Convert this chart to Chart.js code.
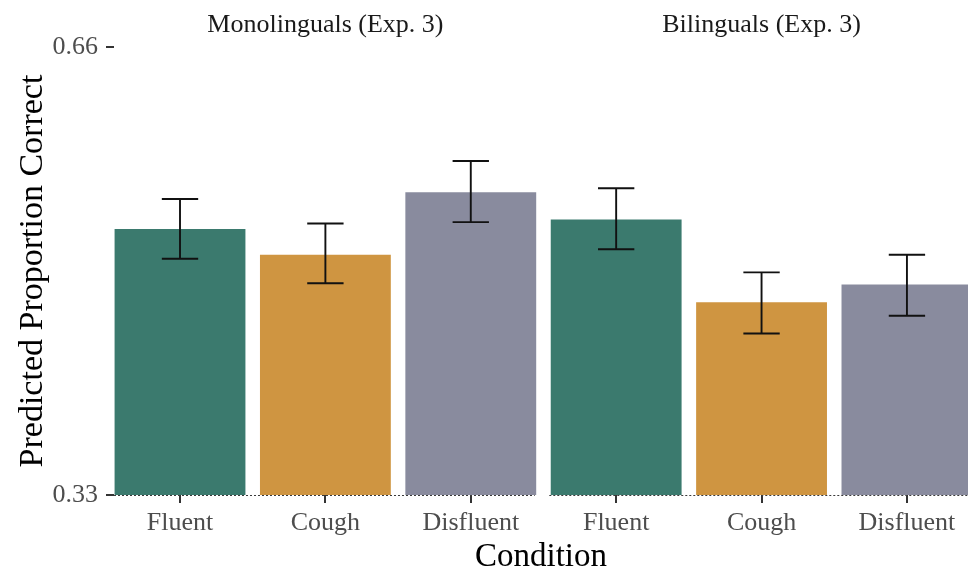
<!DOCTYPE html>
<html>
<head>
<meta charset="utf-8">
<script src="https://cdn.jsdelivr.net/npm/chart.js@4.4.1/dist/chart.umd.min.js"></script>
<style>
  html, body { margin: 0; padding: 0; background: #ffffff; overflow: hidden; }
  #wrap { position: relative; width: 968px; height: 573px; }
</style>
</head>
<body>
<div id="wrap"><canvas id="chart"></canvas></div>
<script>
// Panels (facets) and the conditions shown inside each one
const groups = ['Monolinguals (Exp. 3)', 'Bilinguals (Exp. 3)'];
const conditions = ['Fluent', 'Cough', 'Disfluent'];

// Predicted proportion correct, one value per condition, per panel
const monoMean = [0.526, 0.507, 0.553];
const monoLow  = [0.504, 0.486, 0.531];
const monoHigh = [0.548, 0.530, 0.576];

const biMean = [0.533, 0.472, 0.485];
const biLow  = [0.511, 0.449, 0.462];
const biHigh = [0.556, 0.494, 0.507];

// y-axis tick labels
const yTicks = [0.33, 0.66];

const conditionColors = ['#3b7a6e', '#cf9541', '#898b9e'];
const serif = "'Liberation Serif', 'Times New Roman', serif";

// Flatten the two panels onto one index axis: panel p, condition k -> p*3 + k
const means = [monoMean, biMean];
const lows = [monoLow, biLow];
const highs = [monoHigh, biHigh];
const points = [];
const colors = [];
const errs = [];
groups.forEach((g, p) => {
  conditions.forEach((c, k) => {
    const x = p * conditions.length + k;
    points.push({ x: x, y: means[p][k] });
    colors.push(conditionColors[k]);
    errs.push({ x: x, lo: lows[p][k], hi: highs[p][k] });
  });
});
const tickLabels = groups.flatMap(() => conditions);

// Error bars, panel strip titles and the dotted baseline
const decorations = {
  id: 'decorations',
  afterDatasetsDraw(chart) {
    const { ctx, scales: { x, y }, chartArea } = chart;
    ctx.save();

    // dotted reference line at the bottom of each panel
    ctx.strokeStyle = '#3a3a3a';
    ctx.lineWidth = 1;
    ctx.setLineDash([2, 2]);
    const yb = Math.round(y.getPixelForValue(yTicks[0])) + 0.5;
    groups.forEach((g, p) => {
      const first = p * conditions.length;
      const last = first + conditions.length - 1;
      const x0 = Math.max(chartArea.left, x.getPixelForValue(first - 0.46));
      const x1 = Math.min(chartArea.right, x.getPixelForValue(last + 0.44));
      ctx.beginPath();
      ctx.moveTo(x0, yb);
      ctx.lineTo(x1, yb);
      ctx.stroke();
    });
    ctx.setLineDash([]);

    // error bars
    ctx.strokeStyle = '#111111';
    ctx.lineWidth = 1.9;
    errs.forEach(e => {
      const cx = x.getPixelForValue(e.x);
      const half = (x.getPixelForValue(e.x + 0.125) - cx);
      const yl = y.getPixelForValue(e.lo);
      const yh = y.getPixelForValue(e.hi);
      ctx.beginPath();
      ctx.moveTo(cx, yl); ctx.lineTo(cx, yh);
      ctx.moveTo(cx - half, yh); ctx.lineTo(cx + half, yh);
      ctx.moveTo(cx - half, yl); ctx.lineTo(cx + half, yl);
      ctx.stroke();
    });

    // panel strip titles
    ctx.fillStyle = '#1a1a1a';
    ctx.font = '26px ' + serif;
    ctx.textAlign = 'center';
    ctx.textBaseline = 'alphabetic';
    groups.forEach((g, p) => {
      const cx = x.getPixelForValue(p * conditions.length + 1);
      ctx.fillText(g, cx, 32);
    });
    ctx.restore();
  }
};

new Chart(document.getElementById('chart'), {
  type: 'bar',
  data: {
    datasets: [{
      data: points,
      backgroundColor: colors,
      borderWidth: 0,
      barPercentage: 0.9,
      categoryPercentage: 1.0
    }]
  },
  options: {
    responsive: true,
    maintainAspectRatio: false,
    animation: false,
    layout: { padding: { top: 47, right: 0, bottom: 0, left: 0 } },
    plugins: {
      legend: { display: false },
      tooltip: { enabled: false }
    },
    scales: {
      x: {
        type: 'linear',
        offset: false,
        min: -0.454,
        max: 5.42,
        afterBuildTicks(axis) {
          axis.ticks = tickLabels.map((t, i) => ({ value: i }));
        },
        afterFit(axis) { axis.height = 78; },
        ticks: {
          autoSkip: false,
          maxRotation: 0,
          padding: 5,
          color: '#4d4d4d',
          font: { family: serif, size: 26 },
          callback: (v) => tickLabels[v]
        },
        grid: {
          display: true,
          offset: false,
          drawOnChartArea: false,
          drawTicks: true,
          tickLength: 8,
          color: '#333333',
          lineWidth: 2
        },
        border: { display: false },
        title: {
          display: true,
          text: 'Condition',
          color: '#000000',
          font: { family: serif, size: 33, lineHeight: 0.82 },
          padding: { top: 0, bottom: 2 }
        }
      },
      y: {
        min: yTicks[0],
        max: yTicks[yTicks.length - 1],
        afterBuildTicks(axis) {
          axis.ticks = yTicks.map(v => ({ value: v }));
        },
        afterFit(axis) { axis.width = 114; },
        ticks: {
          padding: 8,
          color: '#4d4d4d',
          font: { family: serif, size: 26 },
          callback: (v) => v.toFixed(2)
        },
        grid: {
          display: true,
          drawOnChartArea: false,
          drawTicks: true,
          tickLength: 8,
          color: '#333333',
          lineWidth: 2
        },
        border: { display: false },
        title: {
          display: true,
          text: 'Predicted Proportion Correct',
          color: '#000000',
          font: { family: serif, size: 34, lineHeight: 1 },
          padding: { top: 16, bottom: 0 }
        }
      }
    }
  },
  plugins: [decorations]
});
</script>
</body>
</html>
